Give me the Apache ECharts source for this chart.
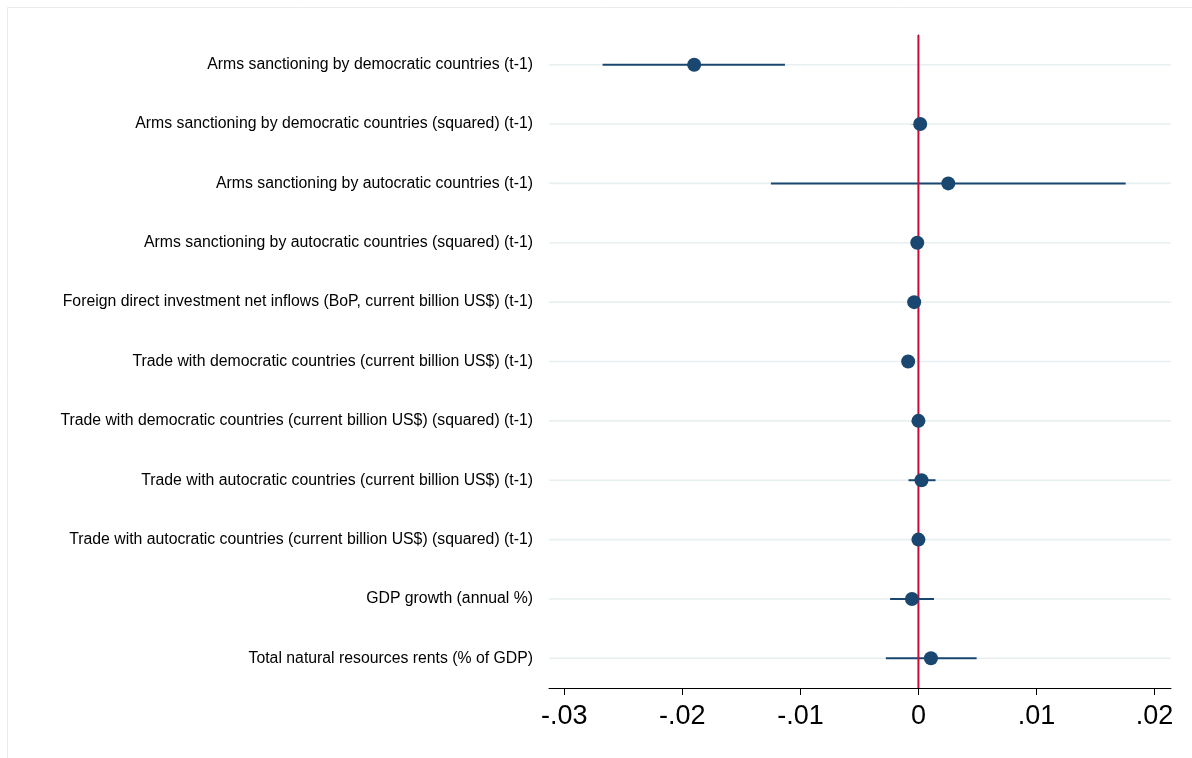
<!DOCTYPE html>
<html>
<head>
<meta charset="utf-8">
<script src="https://cdn.jsdelivr.net/npm/echarts@6/dist/echarts.min.js"></script>
<style>
  html, body { margin: 0; padding: 0; background: #ffffff; }
  #chart { width: 1192px; height: 758px; }
</style>
</head>
<body>
<div id="chart"></div>
<script>
// Coefficient plot: point estimates with confidence intervals
const categories = [
  'Arms sanctioning by democratic countries (t-1)',
  'Arms sanctioning by democratic countries (squared) (t-1)',
  'Arms sanctioning by autocratic countries (t-1)',
  'Arms sanctioning by autocratic countries (squared) (t-1)',
  'Foreign direct investment net inflows (BoP, current billion US$) (t-1)',
  'Trade with democratic countries (current billion US$) (t-1)',
  'Trade with democratic countries (current billion US$) (squared) (t-1)',
  'Trade with autocratic countries (current billion US$) (t-1)',
  'Trade with autocratic countries (current billion US$) (squared) (t-1)',
  'GDP growth (annual %)',
  'Total natural resources rents (% of GDP)'
];
const coef   = [-0.0190, 0.00015, 0.00253, -0.0001, -0.00036, -0.00087, 0.0000, 0.00026, 0.0000, -0.00055, 0.00106];
const ciLow  = [-0.02676, 0.0000, -0.01250, -0.0003, -0.0006, -0.0011, -0.0002, -0.00084, -0.0002, -0.0024, -0.00276];
const ciHigh = [-0.01131, 0.0003, 0.01756, 0.0001, -0.0001, -0.0006, 0.0002, 0.00145, 0.0002, 0.00132, 0.00493];
const xTicks = [-0.03, -0.02, -0.01, 0, 0.01, 0.02];
const refValue = 0;

const navy = '#1a476f';
const chart = echarts.init(document.getElementById('chart'), null, { renderer: 'canvas' });

const fmt = v => {
  if (Math.abs(v) < 1e-12) return '0';
  return v.toFixed(2).replace('0.', '.');
};

chart.setOption({
  animation: false,
  backgroundColor: '#ffffff',
  textStyle: { fontFamily: 'Liberation Sans, Arial, sans-serif' },
  graphic: [{
    type: 'rect',
    shape: { x: 7.5, y: 7.5, width: 1300, height: 900 },
    style: { fill: 'none', stroke: '#ebebeb', lineWidth: 1 },
    z: -10
  }],
  grid: { left: 549, right: 21, top: 35, bottom: 70, containLabel: false },
  xAxis: {
    type: 'value',
    min: -0.0313,
    max: 0.0214,
    axisLine: { show: true, onZero: false, lineStyle: { color: '#000', width: 1 } },
    axisTick: { show: true, length: 7, customValues: xTicks, lineStyle: { color: '#000', width: 1 } },
    axisLabel: {
      customValues: xTicks,
      formatter: fmt,
      fontSize: 27,
      color: '#000',
      margin: 15
    },
    splitLine: { show: false }
  },
  yAxis: {
    type: 'category',
    data: categories,
    inverse: true,
    boundaryGap: true,
    axisLine: { show: true, lineStyle: { color: '#000', width: 1 } },
    axisTick: { show: true, alignWithLabel: true, length: 7, lineStyle: { color: '#000', width: 1 } },
    axisLabel: { fontSize: 15.8, color: '#000', margin: 16 },
    splitLine: { show: false }
  },
  series: [
    {
      // horizontal gridlines across the plot at each coefficient row
      type: 'custom',
      z: 1,
      silent: true,
      data: categories.map((c, i) => [refValue, i]),
      encode: { x: 0, y: 1 },
      renderItem: (params, api) => {
        const cs = params.coordSys;
        const y = api.coord([api.value(0), api.value(1)])[1];
        return {
          type: 'line',
          shape: { x1: cs.x, y1: y, x2: cs.x + cs.width, y2: y },
          style: { stroke: '#e8eff1', lineWidth: 1.6 }
        };
      }
    },
    {
      // confidence intervals
      type: 'custom',
      z: 2,
      silent: true,
      data: categories.map((c, i) => [ciLow[i], ciHigh[i], i]),
      encode: { x: [0, 1], y: 2 },
      renderItem: (params, api) => {
        const p0 = api.coord([api.value(0), api.value(2)]);
        const p1 = api.coord([api.value(1), api.value(2)]);
        return {
          type: 'line',
          shape: { x1: p0[0], y1: p0[1], x2: p1[0], y2: p1[1] },
          style: { stroke: navy, lineWidth: 2 }
        };
      }
    },
    {
      // reference line at zero
      type: 'custom',
      z: 3,
      silent: true,
      data: [[refValue, 0]],
      encode: { x: 0, y: 1 },
      renderItem: (params, api) => {
        const cs = params.coordSys;
        const x = api.coord([api.value(0), api.value(1)])[0];
        return {
          type: 'line',
          shape: { x1: x, y1: cs.y, x2: x, y2: cs.y + cs.height },
          style: { stroke: '#cc0a35', lineWidth: 2 }
        };
      }
    },
    {
      // point estimates
      type: 'scatter',
      z: 4,
      symbol: 'circle',
      symbolSize: 14,
      itemStyle: { color: navy, opacity: 1 },
      data: categories.map((c, i) => [coef[i], i])
    }
  ]
});
</script>
</body>
</html>
